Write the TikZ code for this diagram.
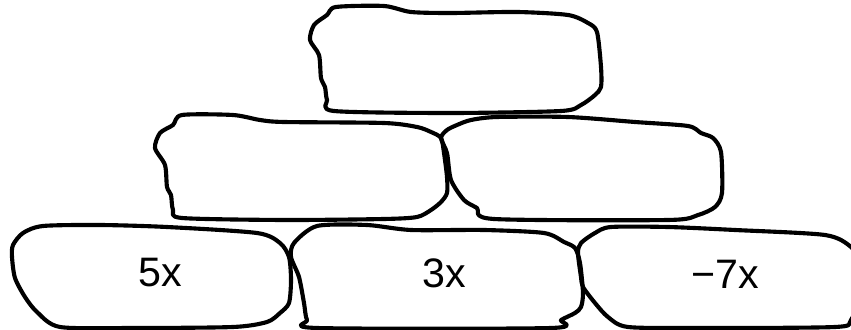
\documentclass[tikz,border=0pt]{standalone}
\usepackage{fontspec}
\setmainfont{Liberation Sans}

\begin{document}
\begin{tikzpicture}[x=0.02646cm,y=-0.02646cm,
  brick/.style={draw,line width=3.1pt,line join=round},
  lbl/.style={font=\fontsize{31}{36}\selectfont,inner sep=0pt}]
  \useasboundingbox (0,0) rectangle (851,330);
  % top row
  \draw[brick] plot[smooth cycle,tension=0.45] coordinates {(336,7) (384,6) (411,12) (451,13) (517,12) (568,15) (588,23) (597,32) (601,67) (601,87) (595,95) (581,105) (561,111) (450,113) (334,111) (327,100) (325,87) (321,78) (319,55) (310,40) (314,25) (327,15)};
  % middle row
  \draw[brick] plot[smooth cycle,tension=0.45] coordinates {(182,115) (233,115) (260,120) (284,122) (384,123) (417,127) (431,132) (441,138) (444,153) (447,177) (447,193) (441,202) (431,210) (417,217) (384,219) (284,220) (182,218) (173,210) (171,195) (167,187) (165,165) (155,148) (160,133) (173,125)};
  \draw[brick] plot[smooth cycle,tension=0.45] coordinates {(441,138) (447,130) (457,125) (471,120) (497,117) (568,117) (635,122) (688,126) (701,133) (713,138) (721,152) (722,193) (715,207) (698,215) (668,220) (494,219) (477,208) (464,200) (451,180) (447,153)};
  % bottom row
  \draw[brick] plot[smooth cycle,tension=0.45] coordinates {(43,226) (100,225) (167,227) (257,233) (280,243) (289,257) (291,280) (289,303) (280,313) (267,322) (233,327) (133,328) (60,327) (37,312) (25,297) (15,278) (12,257) (13,245) (23,233)};
  \draw[brick] plot[smooth cycle,tension=0.45] coordinates {(317,226) (367,225) (411,230) (484,230) (544,233) (564,242) (575,248) (580,263) (583,293) (581,307) (575,313) (561,320) (551,328) (317,328) (307,320) (304,303) (299,277) (291,257) (294,243)};
  \draw[brick] plot[smooth cycle,tension=0.45] coordinates {(611,227) (668,227) (735,230) (825,235) (851,247) (862,265) (862,290) (851,320) (835,327) (701,328) (628,327) (608,317) (595,303) (583,287) (581,277) (578,253) (581,243) (595,233)};
  \node[lbl] (a) at (160,273) {5x};
  \node[lbl] (b) at (444,273) {3x};
  \node[lbl] (c) at (725,274) {−7x};
\end{tikzpicture}
\end{document}
